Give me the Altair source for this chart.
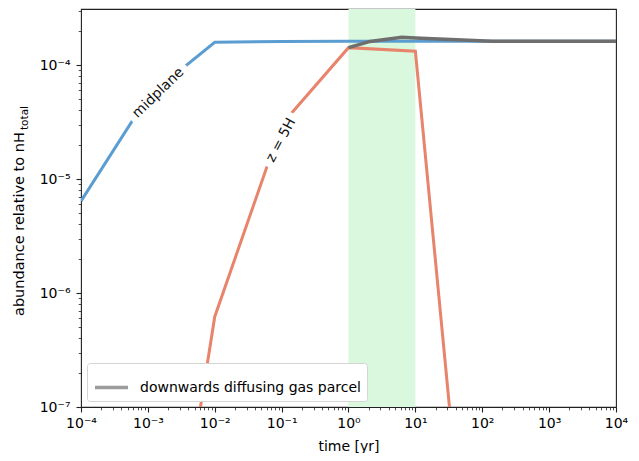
import altair as alt
import pandas as pd

# ---- data ----
time_midplane = [1e-4, 1e-3, 1e-2, 1e-1, 1, 10, 100, 1e3, 1e4]
abund_midplane = [6.4e-6, 5.3e-5, 1.58e-4, 1.61e-4, 1.62e-4, 1.62e-4, 1.62e-4, 1.62e-4, 1.62e-4]

time_z5h = [1e-3, 1e-2, 1e-1, 1, 10, 100]
abund_z5h = [1.2e-10, 6.2e-7, 3.0e-5, 1.42e-4, 1.32e-4, 1.0e-10]

time_parcel = [1, 2.1, 6.3, 10, 140, 1e4]
abund_parcel = [1.42e-4, 1.61e-4, 1.75e-4, 1.73e-4, 1.62e-4, 1.62e-4]

parcel_name = "downwards diffusing gas parcel"

shade_t0 = [1]
shade_t1 = [10]

x_domain = [1e-4, 1e4]
y_domain = [1e-7, 3.1e-4]

label_texts = ["midplane", "z = 5H"]
label_times = [1.43e-3, 0.098]
label_abunds = [5.7e-5, 2.19e-5]
label_angles = [316, 298]

x_decades = [-4, -3, -2, -1, 0, 1, 2, 3, 4]
x_tick_labels = ["10⁻⁴", "10⁻³", "10⁻²", "10⁻¹", "10⁰", "10¹", "10²", "10³", "10⁴"]
y_decades = [-7, -6, -5, -4]
y_tick_labels = ["10⁻⁷", "10⁻⁶", "10⁻⁵", "10⁻⁴"]

y_title_main = "abundance relative to nH"
y_title_sub = "total"
x_title = "time [yr]"

# ---- tables ----
df_mid = pd.DataFrame({"t": time_midplane, "a": abund_midplane})
df_z5 = pd.DataFrame({"t": time_z5h, "a": abund_z5h})
df_parcel = pd.DataFrame({"t": time_parcel, "a": abund_parcel, "series": parcel_name})
df_shade = pd.DataFrame({"t0": shade_t0, "t1": shade_t1, "a0": [y_domain[0]], "a1": [y_domain[1]]})
df_lab = pd.DataFrame({"t": label_times, "a": label_abunds, "txt": label_texts, "ang": label_angles})


def ticks(decades, top):
    vals = []
    for d in decades:
        for k in range(1, 10):
            v = k * 10.0 ** d
            if v <= top * 1.0001:
                vals.append(v)
    return vals


x_vals = ticks(x_decades[:-1], x_domain[1]) + [10.0 ** x_decades[-1]]
y_vals = ticks(y_decades, y_domain[1])

major = "abs(log(datum.value)/LN10 - round(log(datum.value)/LN10)) < 1e-6"


def label_expr(labels, first):
    arr = "[" + ",".join("'" + s + "'" for s in labels) + "]"
    return f"({major}) ? {arr}[round(log(datum.value)/LN10) - ({first})] : ''"


tick_size = {"condition": {"test": major, "value": 5}, "value": 2.8}
tick_width = {"condition": {"test": major, "value": 1.1}, "value": 0.8}

x_scale = alt.Scale(type="log", domain=x_domain, nice=False)
y_scale = alt.Scale(type="log", domain=y_domain, nice=False)

x_axis = alt.Axis(values=x_vals, labelExpr=label_expr(x_tick_labels, x_decades[0]),
                  tickSize=tick_size, tickWidth=tick_width, labelOverlap=False,
                  labelFlush=False, grid=False, domain=False, labelPadding=4,
                  title=x_title, titleBaseline="alphabetic", titleY=43)
y_axis = alt.Axis(values=y_vals, labelExpr=label_expr(y_tick_labels, y_decades[0]),
                  tickSize=tick_size, tickWidth=tick_width, labelOverlap=False,
                  labelFlush=False, grid=False, domain=False, labelPadding=6,
                  title=None)

shade = alt.Chart(df_shade).mark_rect(color="#d9f8dd", opacity=1).encode(
    x=alt.X("t0:Q", scale=x_scale, axis=x_axis),
    x2="t1:Q",
    y=alt.Y("a0:Q", scale=y_scale, axis=y_axis),
    y2="a1:Q",
)

line_mid = alt.Chart(df_mid).mark_line(color="#5b9dd1", strokeWidth=3, clip=True).encode(
    x=alt.X("t:Q", scale=x_scale), y=alt.Y("a:Q", scale=y_scale))

line_z5 = alt.Chart(df_z5).mark_line(color="#e8836c", strokeWidth=3, clip=True).encode(
    x=alt.X("t:Q", scale=x_scale), y=alt.Y("a:Q", scale=y_scale))

line_parcel = alt.Chart(df_parcel).mark_line(strokeWidth=3.5, clip=True).encode(
    x=alt.X("t:Q", scale=x_scale), y=alt.Y("a:Q", scale=y_scale),
    color=alt.Color("series:N", scale=alt.Scale(domain=[parcel_name], range=["#6e6e6e"]),
                    legend=alt.Legend(title=None, orient="bottom-left", offset=6,
                                      symbolType="stroke", symbolSize=1089,
                                      symbolStrokeWidth=3.5, symbolOpacity=0.68,
                                      labelFontSize=14, labelFont="DejaVu Sans",
                                      labelColor="#000000", labelOffset=10,
                                      labelLimit=500,
                                      padding=6, cornerRadius=3,
                                      strokeColor="#d5d5d5", fillColor="white")))

lab_bg = alt.Chart(df_lab).mark_text(fontSize=14, font="DejaVu Sans", stroke="white",
                                     strokeWidth=14, strokeJoin="round", color="white",
                                     baseline="middle", align="center").encode(
    x=alt.X("t:Q", scale=x_scale), y=alt.Y("a:Q", scale=y_scale),
    text="txt:N", angle=alt.Angle("ang:Q", scale=None))

lab_fg = alt.Chart(df_lab).mark_text(fontSize=14, font="DejaVu Sans", color="#111111",
                                     baseline="middle", align="center").encode(
    x=alt.X("t:Q", scale=x_scale), y=alt.Y("a:Q", scale=y_scale),
    text="txt:N", angle=alt.Angle("ang:Q", scale=None))

# y-axis title with a subscript, drawn as two text pieces beside the axis
title_main = alt.Chart(pd.DataFrame({"s": [y_title_main]})).mark_text(
    fontSize=14.5, font="DejaVu Sans", color="#000000", angle=270,
    align="left", baseline="alphabetic").encode(
    text="s:N", x=alt.value(-57), y=alt.value(307))
title_sub = alt.Chart(pd.DataFrame({"s": [y_title_sub]})).mark_text(
    fontSize=10.5, font="DejaVu Sans", color="#000000", angle=270,
    align="left", baseline="alphabetic").encode(
    text="s:N", x=alt.value(-53), y=alt.value(307 - 186))

chart = alt.layer(shade, line_mid, line_z5, line_parcel, lab_bg, lab_fg,
                  title_main, title_sub).properties(
    width=535, height=398,
    autosize=alt.AutoSizeParams(type="none"),
    padding={"left": 73, "top": 1, "right": 15, "bottom": 46},
).configure(font="DejaVu Sans").configure_axis(
    labelFont="DejaVu Sans", titleFont="DejaVu Sans", labelFontSize=14, titleFontSize=14,
    labelColor="#000000", titleColor="#000000", titleFontWeight="normal",
    tickColor="#222222",
).configure_view(stroke="#222222", strokeWidth=1.1)

chart.save("out.html", embed_options={"renderer": "svg", "actions": False})
